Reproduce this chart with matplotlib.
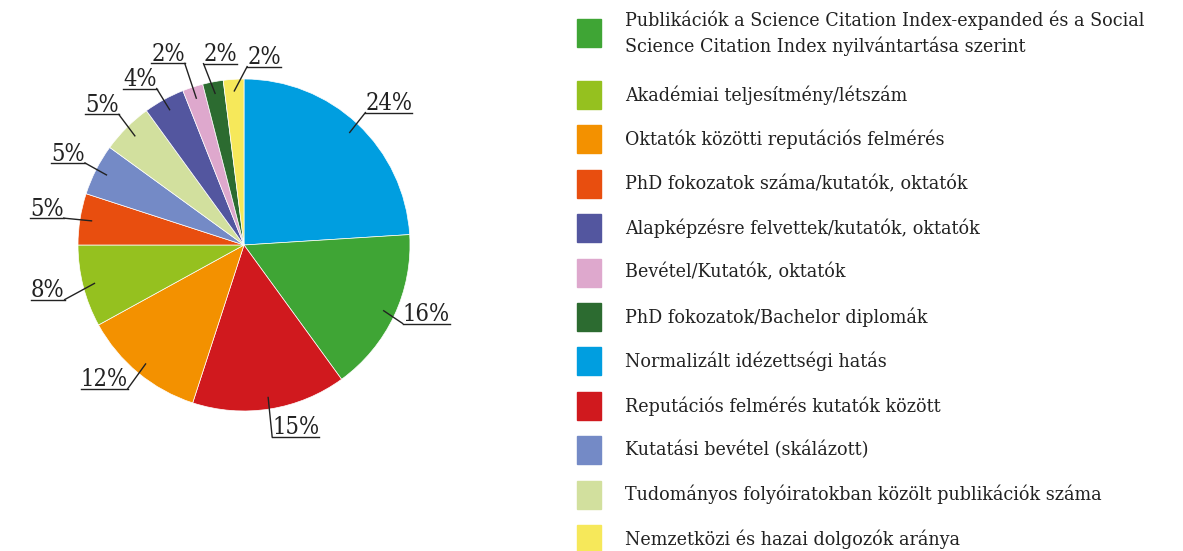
import matplotlib
matplotlib.use("Agg")
import matplotlib.pyplot as plt
import numpy as np

# slices in drawing order, clockwise from 12 o'clock
categories = [
    "Normalizált idézettségi hatás",
    "Publikációk a Science Citation Index-expanded és a Social\nScience Citation Index nyilvántartása szerint",
    "Reputációs felmérés kutatók között",
    "Oktatók közötti reputációs felmérés",
    "Akadémiai teljesítmény/létszám",
    "PhD fokozatok száma/kutatók, oktatók",
    "Kutatási bevétel (skálázott)",
    "Tudományos folyóiratokban közölt publikációk száma",
    "Alapképzésre felvettek/kutatók, oktatók",
    "Bevétel/Kutatók, oktatók",
    "PhD fokozatok/Bachelor diplomák",
    "Nemzetközi és hazai dolgozók aránya",
]
shares = [24, 16, 15, 12, 8, 5, 5, 5, 4, 2, 2, 2]
colors = ["#009EE0", "#3FA535", "#D0191E", "#F39100", "#95C11F", "#E84E0F",
          "#748AC6", "#D2E09E", "#53569F", "#DEA8CD", "#2C6B30", "#F6E85A"]
# order of entries in the legend (indexes into the lists above)
legend_order = [1, 4, 3, 5, 8, 9, 10, 0, 2, 6, 7, 11]

# label placement: radius and angle nudge per slice
lab_r = [1.23, 1.17, 1.13, 1.16, 1.21, 1.21, 1.2, 1.21, 1.19, 1.25, 1.17, 1.15]
lab_nudge = [-2, 5, 7, -7, -2, -2, -1, 0, 3, 3.5, -3.8, -9.6]

FONT = "DejaVu Serif"
W, H = 1183, 551
fig = plt.figure(figsize=(W / 100, H / 100), dpi=100)

cx, cy, R = 244, 245, 166
ax = fig.add_axes([(cx - R) / W, (H - cy - R) / H, 2 * R / W, 2 * R / H])
wedges, _ = ax.pie(shares, colors=colors, startangle=90, counterclock=False,
                   radius=1, wedgeprops=dict(edgecolor="white", linewidth=0.5))
ax.set_xlim(-1, 1)
ax.set_ylim(-1, 1)
ax.axis("off")

texts = []
anchors = []
for i, w in enumerate(wedges):
    mid = np.deg2rad((w.theta1 + w.theta2) / 2)
    ang = mid + np.deg2rad(lab_nudge[i])
    tx, ty = lab_r[i] * np.cos(ang), lab_r[i] * np.sin(ang)
    t = ax.text(tx, ty - 0.055, f"{shares[i]}%", ha="center", va="baseline",
                fontsize=17, family=FONT, fontstretch="condensed", color="#222222")
    texts.append(t)
    anchors.append((0.93 * np.cos(mid), 0.93 * np.sin(mid)))

fig.canvas.draw()
inv = ax.transData.inverted()
for t, (axx, ayy) in zip(texts, anchors):
    bb = t.get_window_extent()
    x0, _ = inv.transform((bb.x0, 0))
    x1, _ = inv.transform((bb.x1, 0))
    yb = t.get_position()[1] - 0.014
    ax.plot([x0, x1], [yb, yb], color="#222222", lw=1.0, clip_on=False)
    xc = (x0 + x1) / 2
    ex = x0 if xc > axx else x1
    ax.plot([axx, ex], [ayy, yb], color="#222222", lw=1.0, clip_on=False)

# legend drawn in pixel coordinates
lg = fig.add_axes([0, 0, 1, 1])
lg.set_xlim(0, W)
lg.set_ylim(H, 0)
lg.axis("off")
y = 33
for k, idx in enumerate(legend_order):
    lg.add_patch(plt.Rectangle((577, y - 14), 24, 28, color=colors[idx]))
    lg.text(625, y, categories[idx], ha="left", va="center", fontsize=14,
            family=FONT, fontstretch="condensed", color="#222222", linespacing=1.4)
    y = 95 if k == 0 else y + 44.4

fig.savefig("out.png", dpi=100)
